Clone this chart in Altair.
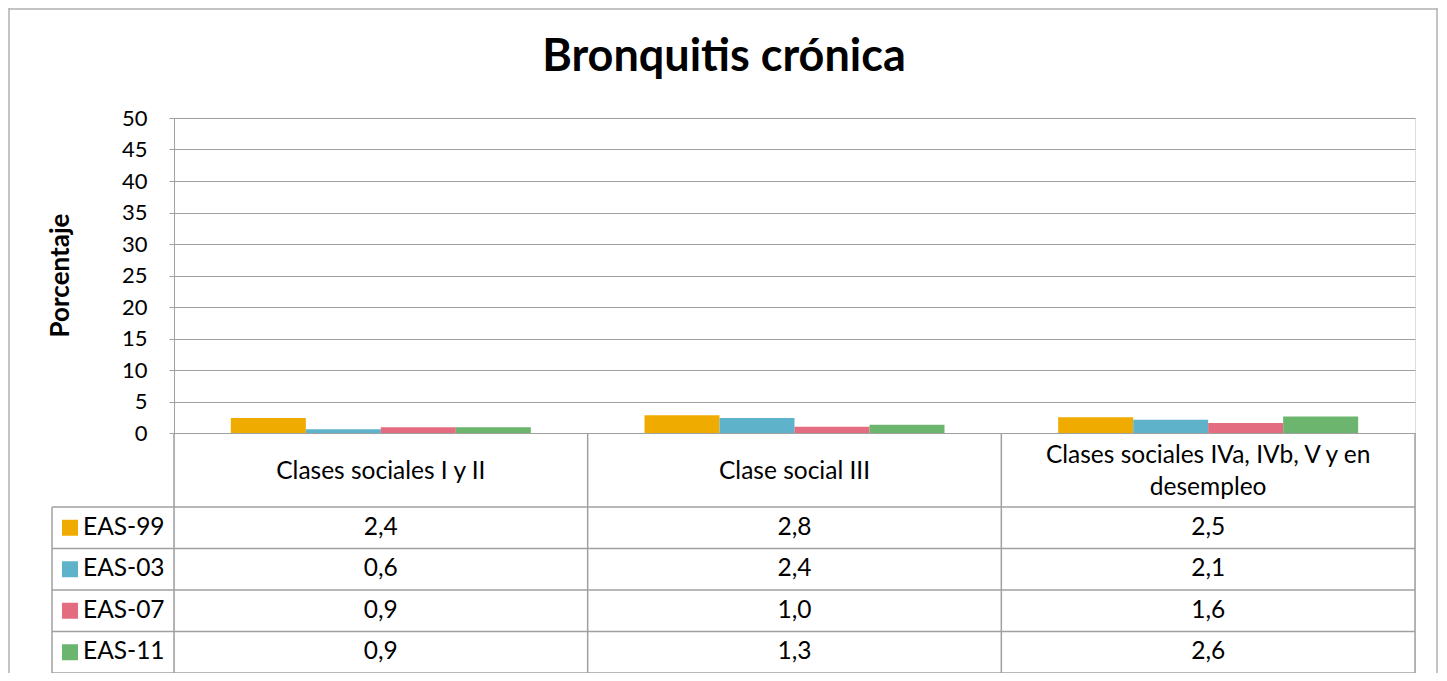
import altair as alt
import pandas as pd

# ---- data ----
categories = ["Clases sociales I y II", "Clase social III",
              "Clases sociales IVa, IVb, V y en desempleo"]
category_labels = ["Clases sociales I y II", "Clase social III",
                   "Clases sociales IVa, IVb, V y en\ndesempleo"]
series = ["EAS-99", "EAS-03", "EAS-07", "EAS-11"]
eas99 = [2.4, 2.8, 2.5]
eas03 = [0.6, 2.4, 2.1]
eas07 = [0.9, 1.0, 1.6]
eas11 = [0.9, 1.3, 2.6]
colors = ["#F0AB00", "#5EB3CB", "#E46C80", "#6BB56E"]
y_ticks = list(range(0, 51, 5))
title_text = "Bronquitis crónica"
y_title = "Porcentaje"

values = {"EAS-99": eas99, "EAS-03": eas03, "EAS-07": eas07, "EAS-11": eas11}
rows = []
for s in series:
    for c, v in zip(categories, values[s]):
        rows.append({"category": c, "series": s, "value": v,
                     "label": f"{v:.1f}".replace(".", ",")})
df = pd.DataFrame(rows)
ser_df = pd.DataFrame({"series": series})

# ---- layout (pixels inside the plot group) ----
W = 1241
H = 555
BAR_H = 315          # height of the bar area (0..50)
HEAD_BOTTOM = 389    # bottom of header row of the table
ROW_H = (H - HEAD_BOTTOM) / 4
LEG_LEFT = -122
LINE = "#A0A0A0"
FONT = "Lato"
FS = 24.5
LH = 32

head_center = (BAR_H + HEAD_BOTTOM) / 2 + 2
cat_df = pd.DataFrame({
    "category": categories,
    "label": category_labels,
    "ly": [head_center - (lab.count("\n")) * LH / 2 for lab in category_labels],
})

x_scale = alt.Scale(domain=categories, paddingInner=0, paddingOuter=0)
row_scale = alt.Scale(type="point", domain=series, range=[HEAD_BOTTOM, H], padding=0.5)
color_scale = alt.Scale(domain=series, range=colors)

bars = alt.Chart(df).mark_bar().encode(
    x=alt.X("category:N", sort=categories, scale=x_scale, axis=None),
    xOffset=alt.XOffset("series:N", sort=series,
                        scale=alt.Scale(domain=series, paddingInner=0, paddingOuter=0.758)),
    y=alt.Y("value:Q", scale=alt.Scale(domain=[0, 50], range=[BAR_H, 0]),
            axis=alt.Axis(values=y_ticks, title=None, grid=True, gridColor=LINE,
                          domainColor=LINE, tickColor=LINE, tickSize=5,
                          labelPadding=22, labelFontSize=22, labelFont=FONT,
                          labelColor="#000000")),
    color=alt.Color("series:N", scale=color_scale, legend=None),
)

# table horizontal lines
hlines_df = pd.DataFrame({"py": [HEAD_BOTTOM + i * ROW_H for i in range(5)]})
hlines = alt.Chart(hlines_df).mark_rule(color=LINE, strokeWidth=1.5).encode(
    y=alt.Y("py:Q", scale=None, axis=None),
    x=alt.value(LEG_LEFT), x2=alt.value(W),
)
# table vertical lines at column edges
vlines = alt.Chart(cat_df).mark_rule(color=LINE, strokeWidth=1.5).encode(
    x=alt.X("category:N", sort=categories, scale=x_scale, bandPosition=0, axis=None),
    y=alt.value(BAR_H), y2=alt.value(H),
)
one = cat_df.head(1)
vright = alt.Chart(one).mark_rule(color=LINE, strokeWidth=1.5).encode(
    x=alt.value(W), y=alt.value(BAR_H), y2=alt.value(H),
)
vleft = alt.Chart(one).mark_rule(color=LINE, strokeWidth=1.5).encode(
    x=alt.value(LEG_LEFT), y=alt.value(HEAD_BOTTOM), y2=alt.value(H),
)
# outer chart border
BORDER = "#B0B0B0"
border_l = alt.Chart(one).mark_rule(color=BORDER, strokeWidth=1.5).encode(
    x=alt.value(-165), y=alt.value(-110), y2=alt.value(H + 10))
border_r = alt.Chart(one).mark_rule(color=BORDER, strokeWidth=1.5).encode(
    x=alt.value(W + 22), y=alt.value(-110), y2=alt.value(H + 10))
border_t = alt.Chart(one).mark_rule(color=BORDER, strokeWidth=1.5).encode(
    x=alt.value(-165), x2=alt.value(W + 22), y=alt.value(-109))

# header labels
header = alt.Chart(cat_df).mark_text(font=FONT, fontSize=FS, lineBreak="\n",
                                     lineHeight=LH, baseline="middle",
                                     color="#000000").encode(
    x=alt.X("category:N", sort=categories, scale=x_scale, axis=None),
    y=alt.Y("ly:Q", scale=None, axis=None),
    text="label:N",
)
# table values
cells = alt.Chart(df).mark_text(font=FONT, fontSize=FS, baseline="middle",
                                color="#000000").encode(
    x=alt.X("category:N", sort=categories, scale=x_scale, axis=None),
    y=alt.Y("series:N", scale=row_scale, axis=None),
    text="label:N",
)
# legend keys in the table
keys = alt.Chart(ser_df).mark_square(size=256, opacity=1).encode(
    x=alt.value(LEG_LEFT + 18),
    y=alt.Y("series:N", scale=row_scale, axis=None),
    color=alt.Color("series:N", scale=color_scale, legend=None),
)
key_text = alt.Chart(ser_df).mark_text(font=FONT, fontSize=FS, align="left",
                                       baseline="middle", color="#000000").encode(
    x=alt.value(LEG_LEFT + 31),
    y=alt.Y("series:N", scale=row_scale, axis=None),
    text="series:N",
)

title = alt.Chart(one).mark_text(font=FONT, fontSize=45, fontWeight="bold",
                                 baseline="alphabetic", color="#000000").encode(
    x=alt.value(550), y=alt.value(-47), text=alt.value(title_text))
ytitle = alt.Chart(one).mark_text(font=FONT, fontSize=26, fontWeight="bold",
                                  angle=270, baseline="middle",
                                  color="#000000").encode(
    x=alt.value(-113), y=alt.value(BAR_H / 2), text=alt.value(y_title))

chart = alt.layer(
    bars, hlines, vlines, vright, vleft, border_l, border_r, border_t,
    header, cells, keys, key_text, title, ytitle
).resolve_scale(y="independent").properties(
    width=W, height=H,
    padding={"left": 166, "top": 110, "right": 24, "bottom": 0},
    autosize=alt.AutoSizeParams(type="none"),
).configure_view(stroke=None).configure(background="#FFFFFF")

chart.save("out.html", embed_options={"renderer": "svg", "actions": False})
